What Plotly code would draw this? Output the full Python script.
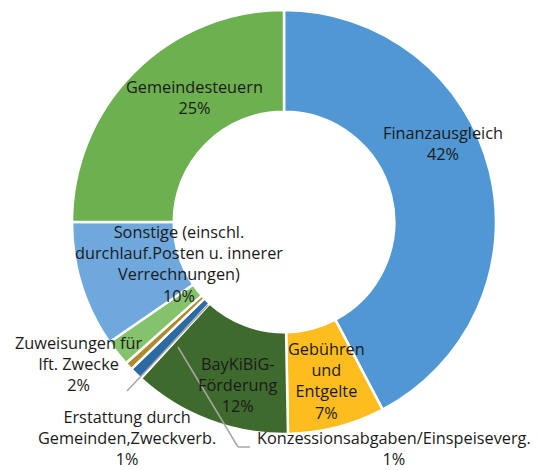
import plotly.graph_objects as go

# The page body has an 8px margin; coordinates below are window pixels
OFF = 8
W, H = 544 - 2 * OFF, 470

labels = [
    "Finanzausgleich",
    "Gebühren und Entgelte",
    "BayKiBiG-Förderung",
    "Konzessionsabgaben/Einspeiseverg.",
    "Erstattung durch Gemeinden,Zweckverb.",
    "Zuweisungen für lft. Zwecke",
    "Sonstige (einschl. durchlauf.Posten u. innerer Verrechnungen)",
    "Gemeindesteuern",
]
shares = [42.3, 7.4, 12.1, 1.0, 0.6, 2.0, 9.6, 25.0]
colors = ["#5097D3", "#FDBD1E", "#3F6A2D", "#2B6AA3", "#AD8A2E",
          "#84C36C", "#6EA8DC", "#6DB04F"]

# label text lines (category name split as in the reference)
label_lines = [
    ["Finanzausgleich"],
    ["Gebühren", "und", "Entgelte"],
    ["BayKiBiG-", "Förderung"],
    ["Konzessionsabgaben/Einspeiseverg."],
    ["Erstattung durch", "Gemeinden,Zweckverb."],
    ["Zuweisungen für", "lft. Zwecke"],
    ["Sonstige (einschl.", "durchlauf.Posten u. innerer", "Verrechnungen)"],
    ["Gemeindesteuern"],
]
# label block centre positions in window pixels (x, y)
label_pos = [
    (443, 143), (326, 381), (238, 385), (394, 448),
    (127, 438), (79, 364), (179, 264), (194, 98),
]

cx, cy, r = 284, 222, 212


def px(x):
    return (x - OFF) / W


def py(y):
    return 1 - (y - OFF) / H


fig = go.Figure(go.Pie(
    labels=labels,
    values=shares,
    sort=False,
    direction="clockwise",
    rotation=0,
    hole=0.52,
    textinfo="none",
    marker=dict(colors=colors, line=dict(color="white", width=2.5)),
    domain=dict(x=[px(cx - r), px(cx + r)],
                y=[py(cy + r), py(cy - r)]),
    showlegend=False,
))

annotations = []
for lines, v, (x, y) in zip(label_lines, shares, label_pos):
    text = "<br>".join(lines + [f"{v:.0f}%"])
    annotations.append(dict(
        x=px(x), y=py(y), xref="paper", yref="paper",
        text=text, showarrow=False, xanchor="center", yanchor="middle",
        align="center", borderpad=0,
        font=dict(family="Open Sans, Liberation Sans, sans-serif",
                  size=16.3, color="#1a1a1a"),
    ))

shapes = []
# leader lines
for pts in [[(250, 447), (238, 447), (178, 347)],
            [(127, 391), (208, 305)]]:
    for (x0, y0), (x1, y1) in zip(pts[:-1], pts[1:]):
        shapes.append(dict(type="line", xref="paper", yref="paper",
                           x0=px(x0), y0=py(y0), x1=px(x1), y1=py(y1),
                           line=dict(color="#a6a6a6", width=1.5)))

fig.update_layout(
    width=W, height=H,
    margin=dict(l=0, r=0, t=0, b=0),
    paper_bgcolor="white",
    plot_bgcolor="white",
    annotations=annotations,
    shapes=shapes,
)

fig.write_html("out.html")
